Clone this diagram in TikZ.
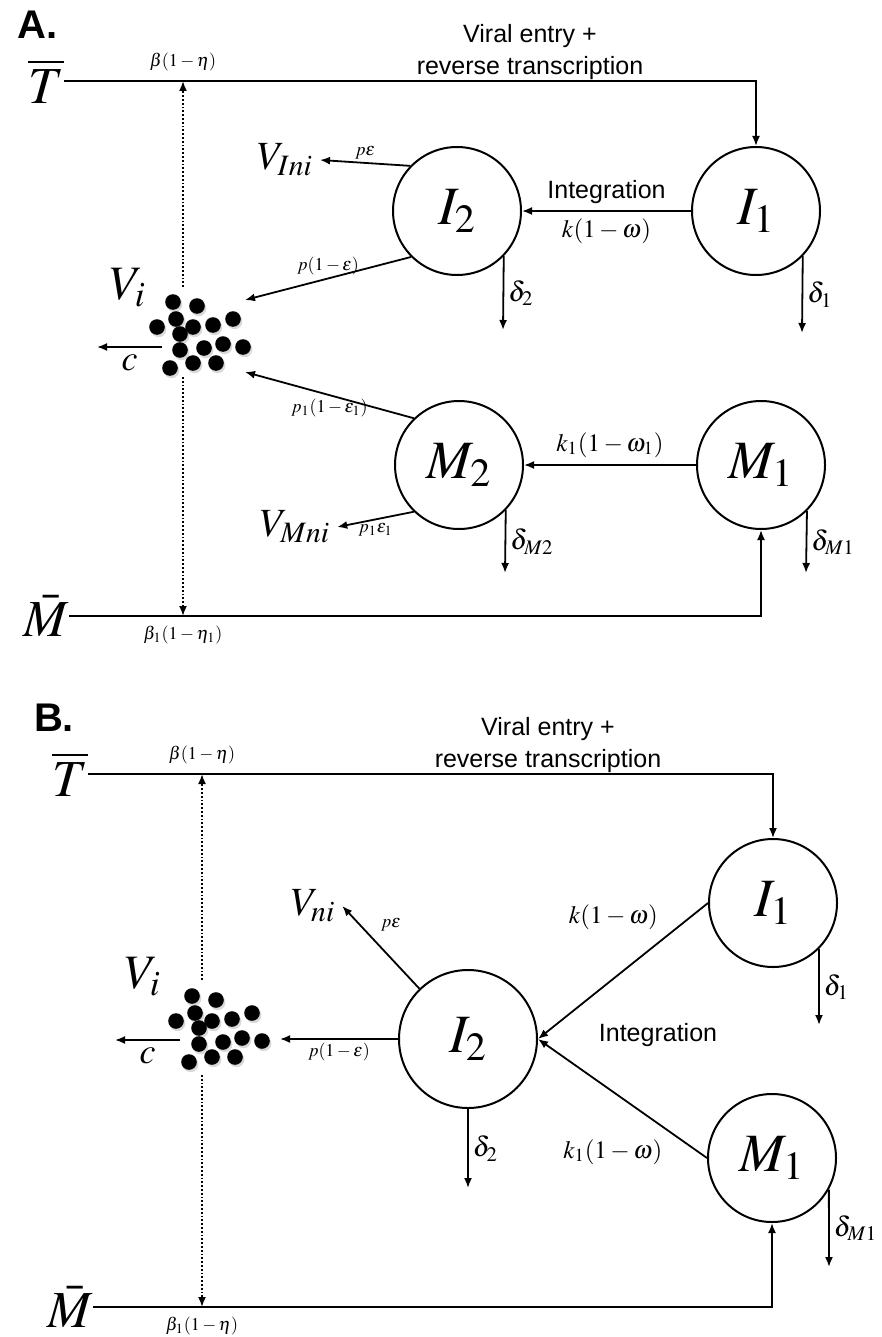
\documentclass[tikz,border=0pt]{standalone}
\usepackage{mathptmx}
\usepackage{fontspec}
\setmainfont{Liberation Sans}
\usetikzlibrary{arrows.meta, shadows}

\tikzset{
  pool/.style={circle, draw, line width=1pt, minimum size=64pt, inner sep=0pt, font=\fontsize{27}{27}\selectfont},
  flow/.style={line width=0.9pt, -{Latex[length=5pt, width=4pt]}},
  trace/.style={flow, densely dotted},
  big/.style={font=\fontsize{26}{26}\selectfont, inner sep=0pt},
  vir/.style={font=\fontsize{20}{20}\selectfont},
  rate/.style={font=\fontsize{9}{9}\selectfont, inner sep=1.5pt},
  kval/.style={font=\fontsize{12.5}{12.5}\selectfont},
  loss/.style={font=\fontsize{14}{14}\selectfont, inner sep=2pt},
  word/.style={font=\fontsize{12.5}{16}\selectfont, align=center},
  panel/.style={font=\fontsize{20}{20}\selectfont\bfseries, inner sep=0pt},
  virion/.style={fill=black, drop shadow={shadow xshift=0.8pt, shadow yshift=-1.2pt, opacity=0.3}}
}

% cluster of free virus particles around (#1,#2)
\newcommand{\virions}[2]{%
  \foreach \dx/\dy in {-27/-33, -3/-29, -24/-16, -7/-8, 13/-10, 33/-16, -43/-8, -20/-1,
                       -20/15, 4/13, 23/9, 43/12, -30/33, -7/28, 16/28}
    \fill[virion] (#1+\dx, #2+\dy) circle (3.9pt);}

\begin{document}
\begin{tikzpicture}[x=0.5pt, y=-0.5pt]
  \useasboundingbox (0,0) rectangle (882,1337);

  % ---------------- A ----------------
  \node[panel] (labA) at (38,25) {A.};
  \node[big] (tA) at (46,81) {$\overline{T}$};
  \node[big] (mbA) at (46,616) {$\bar{M}$};
  \node[word] (entryA) at (530,52) {Viral entry +\\reverse transcription};
  \node[pool] (i1A) at (756,211) {$I_1$};
  \node[pool] (i2A) at (457,211) {$I_2$};
  \node[pool] (m1A) at (761,465) {$M_1$};
  \node[pool] (m2A) at (459,465) {$M_2$};
  \node[font=\fontsize{24}{24}\selectfont] (viA) at (128,288) {$V_i$};
  \node[vir] (vIniA) at (285,160) {$V_{Ini}$};
  \node[vir] (vMniA) at (295,527) {$V_{Mni}$};
  \virions{200}{335}
  \coordinate (vtopA) at (183,287);
  \coordinate (vbotA) at (183,377);
  \coordinate (pinA) at (245,300);
  \coordinate (qinA) at (245,372);
  \coordinate (cA) at (162,347);
  \coordinate (coutA) at (97,347);
  \coordinate (d1A) at (802,333);
  \coordinate (d2A) at (503,330);
  \coordinate (dm1A) at (806,573);
  \coordinate (dm2A) at (505,573);

  \draw[flow] (tA.east) -| (i1A.north);
  \draw[flow] (mbA.east) -| (m1A.south);
  \draw[trace] (vtopA) -- (vtopA |- tA.east) node[rate, pos=1, above=3pt] {$\beta(1-\eta)$};
  \draw[trace] (vbotA) -- (vbotA |- mbA.east) node[rate, pos=1, below=3pt] {$\beta_1(1-\eta_1)$};
  \draw[flow] (i1A) -- node[word, above] {Integration} node[kval, below] {$k(1-\omega)$} (i2A);
  \draw[flow] (m1A) -- node[kval, above] {$k_1(1-\omega_1)$} (m2A);
  \draw[flow] (i2A.136) -- node[rate, above] {$p\varepsilon$} (vIniA.east);
  \draw[flow] (i2A.225) -- node[rate, above] {$p(1-\varepsilon)$} (pinA);
  \draw[flow] (m2A.134) -- node[rate, below] {$p_1(1-\varepsilon_1)$} (qinA);
  \draw[flow] (m2A.226) -- node[rate, below] {$p_1\varepsilon_1$} (vMniA.east);
  \draw[flow] (cA) -- node[font=\fontsize{18}{18}\selectfont, below] {$c$} (coutA);
  \draw[flow] (i1A.-44) -- node[loss, right] {$\delta_1$} (d1A);
  \draw[flow] (i2A.-44) -- node[loss, right] {$\delta_2$} (d2A);
  \draw[flow] (m1A.-45) -- node[loss, right] {$\delta_{M1}$} (dm1A);
  \draw[flow] (m2A.-44) -- node[loss, right] {$\delta_{M2}$} (dm2A);

  % ---------------- B ----------------
  \node[panel] (labB) at (54,718) {B.};
  \node[big] (tB) at (70,774) {$\overline{T}$};
  \node[big] (mbB) at (70,1307) {$\bar{M}$};
  \node[word] (entryB) at (548,745) {Viral entry +\\reverse transcription};
  \node[pool] (i1B) at (773,903) {$I_1$};
  \node[pool, minimum size=69pt] (i2B) at (468,1039) {$I_2$};
  \node[pool] (m1B) at (772,1158) {$M_1$};
  \node[word] (intB) at (658,1035) {Integration};
  \node[font=\fontsize{24}{24}\selectfont] (viB) at (143,977) {$V_i$};
  \node[vir] (vniB) at (313,906) {$V_{ni}$};
  \virions{219}{1029}
  \coordinate (vtopB) at (202,980);
  \coordinate (vbotB) at (202,1075);
  \coordinate (pinB) at (280,1039);
  \coordinate (cB) at (180,1040);
  \coordinate (coutB) at (115,1040);
  \coordinate (d1B) at (819,1025);
  \coordinate (d2B) at (468,1188);
  \coordinate (dm1B) at (829,1267);

  \draw[flow] (tB.east) -| (i1B.north);
  \draw[flow] (mbB.east) -| (m1B.south);
  \draw[trace] (vtopB) -- (vtopB |- tB.east) node[rate, pos=1, above=3pt] {$\beta(1-\eta)$};
  \draw[trace] (vbotB) -- (vbotB |- mbB.east) node[rate, pos=1, below=3pt] {$\beta_1(1-\eta)$};
  \draw[flow] (i1B.west) -- node[kval, pos=0.25, above left] {$k(1-\omega)$} (i2B.east);
  \draw[flow] (m1B.west) -- node[kval, pos=0.22, below left] {$k_1(1-\omega)$} (i2B.east);
  \draw[flow] (i2B.134) -- node[rate, pos=0.6, above right=2pt] {$p\varepsilon$} (vniB.east);
  \draw[flow] (i2B.west) -- node[rate, below] {$p(1-\varepsilon)$} (pinB);
  \draw[flow] (cB) -- node[font=\fontsize{18}{18}\selectfont, below] {$c$} (coutB);
  \draw[flow] (i1B.-45) -- node[loss, right] {$\delta_1$} (d1B);
  \draw[flow] (i2B.south) -- node[loss, right] {$\delta_2$} (d2B);
  \draw[flow] (m1B.-29) -- node[loss, right] {$\delta_{M1}$} (dm1B);
\end{tikzpicture}
\end{document}
